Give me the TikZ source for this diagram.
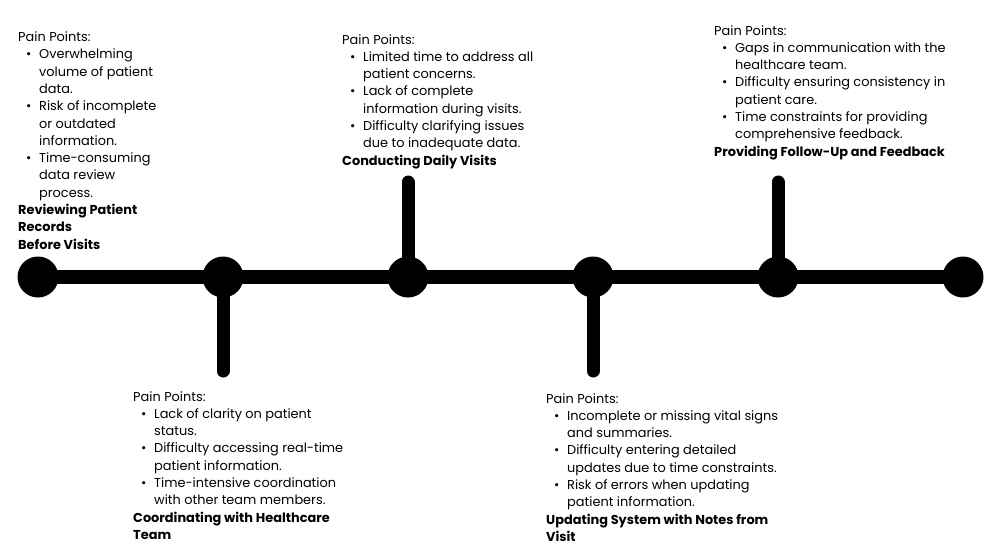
\documentclass[tikz,border=0pt]{standalone}
\usepackage{fontspec}
\setmainfont{Poppins}
\usepackage{tikz}
\usetikzlibrary{positioning}
\newcommand{\painitem}[1]{\hspace*{8pt}\makebox[13pt][l]{\textbullet}#1}
\newcommand{\paincont}[1]{\hspace*{21pt}#1}

\begin{document}
\begin{tikzpicture}[
  x=1pt, y=-1pt,
  every node/.style={font=\fontsize{12.9}{17.3}\selectfont},
  painbox/.style={anchor=north west, align=left, inner sep=0pt, text=black},
  milestone/.style={circle, fill=black, minimum size=41pt, inner sep=0pt},
  axis/.style={black, line width=14pt},
  stem/.style={black, line width=13pt, line cap=round}
]
\useasboundingbox (0,0) rectangle (992,551);

% Timeline milestones.
\node[milestone] (review) at (38,277) {};
\node[milestone] (coord)  at (223,277) {};
\node[milestone] (visits) at (408,277) {};
\node[milestone] (update) at (593,277) {};
\node[milestone] (follow) at (778,277) {};
\node[milestone] (finish) at (963,277) {};
\draw[axis] (review.center) -- (finish.center);

% Stems up and down.
\coordinate (visits top)  at (408,182);
\coordinate (follow top)  at (778,182);
\coordinate (coord foot)  at (223,371);
\coordinate (update foot) at (593,371);
\draw[stem] (visits.center) -- (visits top);
\draw[stem] (follow.center) -- (follow top);
\draw[stem] (coord.center) -- (coord foot);
\draw[stem] (update.center) -- (update foot);

% Pain point texts.
\node[painbox] (review text) at (18,31.5)
  {Pain Points:\\
   \painitem{Overwhelming}\\
   \paincont{volume of patient}\\
   \paincont{data.}\\
   \painitem{Risk of incomplete}\\
   \paincont{or outdated}\\
   \paincont{information.}\\
   \painitem{Time-consuming}\\
   \paincont{data review}\\
   \paincont{process.}\\
   \textbf{Reviewing Patient}\\
   \textbf{Records}\\
   \textbf{Before Visits}};

\node[painbox] (visits text) at (342,34)
  {Pain Points:\\
   \painitem{Limited time to address all}\\
   \paincont{patient concerns.}\\
   \painitem{Lack of complete}\\
   \paincont{information during visits.}\\
   \painitem{Difficulty clarifying issues}\\
   \paincont{due to inadequate data.}\\
   \textbf{Conducting Daily Visits}};

\node[painbox] (follow text) at (714,25)
  {Pain Points:\\
   \painitem{Gaps in communication with the}\\
   \paincont{healthcare team.}\\
   \painitem{Difficulty ensuring consistency in}\\
   \paincont{patient care.}\\
   \painitem{Time constraints for providing}\\
   \paincont{comprehensive feedback.}\\
   \textbf{Providing Follow-Up and Feedback}};

\node[painbox] (coord text) at (133,391)
  {Pain Points:\\
   \painitem{Lack of clarity on patient}\\
   \paincont{status.}\\
   \painitem{Difficulty accessing real-time}\\
   \paincont{patient information.}\\
   \painitem{Time-intensive coordination}\\
   \paincont{with other team members.}\\
   \textbf{Coordinating with Healthcare}\\
   \textbf{Team}};

\node[painbox] (update text) at (546,393)
  {Pain Points:\\
   \painitem{Incomplete or missing vital signs}\\
   \paincont{and summaries.}\\
   \painitem{Difficulty entering detailed}\\
   \paincont{updates due to time constraints.}\\
   \painitem{Risk of errors when updating}\\
   \paincont{patient information.}\\
   \textbf{Updating System with Notes from}\\
   \textbf{Visit}};
\end{tikzpicture}
\end{document}
